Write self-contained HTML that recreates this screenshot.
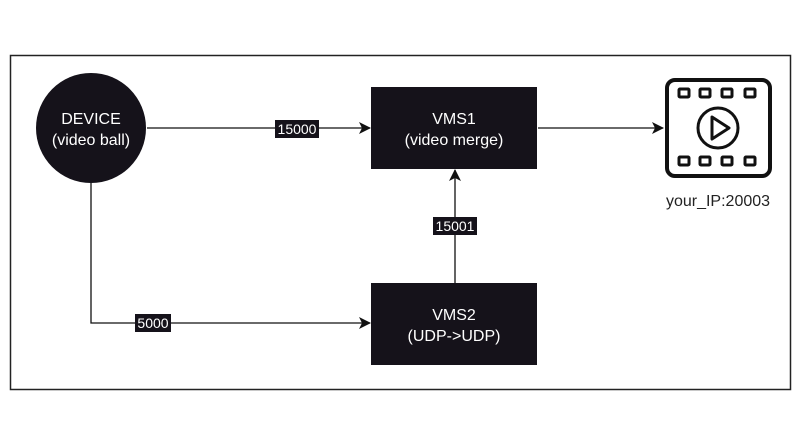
<!DOCTYPE html>
<html><head><style>
html,body{margin:0;background:#fff;width:800px;height:447px;overflow:hidden;}
svg{display:block;font-family:"Liberation Sans",Arial,sans-serif;}
</style></head><body>
<svg width="800" height="447" viewBox="0 0 800 447" xmlns="http://www.w3.org/2000/svg">
<defs><marker id="a" markerWidth="12" markerHeight="12" refX="11" refY="6" orient="auto" markerUnits="userSpaceOnUse"><path d="M0,0 L12,6 L0,12 L3,6 Z" fill="#111"/></marker></defs>
<rect width="800" height="447" fill="#fff"/>
<rect x="10.5" y="55.5" width="780" height="334" fill="none" stroke="#222" stroke-width="1.5"/>
<circle cx="91" cy="128" r="55" fill="#15121a"/>
<text x="91" y="124" fill="#fff" font-size="16" text-anchor="middle">DEVICE</text>
<text x="91" y="145" fill="#fff" font-size="16" text-anchor="middle">(video ball)</text>
<rect x="371" y="87" width="166" height="82" fill="#15121a"/>
<text x="454" y="124" fill="#fff" font-size="16" text-anchor="middle">VMS1</text>
<text x="454" y="145" fill="#fff" font-size="16" text-anchor="middle">(video merge)</text>
<rect x="371" y="283" width="166" height="82" fill="#15121a"/>
<text x="454" y="320" fill="#fff" font-size="16" text-anchor="middle">VMS2</text>
<text x="454" y="341" fill="#fff" font-size="16" text-anchor="middle">(UDP-&gt;UDP)</text>
<line x1="147" y1="128" x2="370" y2="128" stroke="#111" stroke-width="1.3" marker-end="url(#a)"/>
<polyline points="91,183 91,323 370,323" fill="none" stroke="#111" stroke-width="1.3" marker-end="url(#a)"/>
<line x1="455" y1="283" x2="455" y2="170" stroke="#111" stroke-width="1.3" marker-end="url(#a)"/>
<line x1="538" y1="128" x2="663" y2="128" stroke="#111" stroke-width="1.3" marker-end="url(#a)"/>
<rect x="275" y="120" width="44" height="18" fill="#15121a"/>
<text x="297" y="134" fill="#fff" font-size="14" text-anchor="middle">15000</text>
<rect x="135" y="314" width="36" height="18" fill="#15121a"/>
<text x="153" y="328" fill="#fff" font-size="14" text-anchor="middle">5000</text>
<rect x="433" y="217" width="44" height="18" fill="#15121a"/>
<text x="455" y="231" fill="#fff" font-size="14" text-anchor="middle">15001</text>
<rect x="667" y="80" width="103" height="96" rx="8" fill="none" stroke="#111" stroke-width="4"/>
<g fill="none" stroke="#111" stroke-width="3">
<rect x="679" y="89" width="10" height="8" rx="1"/><rect x="700" y="89" width="10" height="8" rx="1"/><rect x="722" y="89" width="10" height="8" rx="1"/><rect x="745" y="89" width="10" height="8" rx="1"/>
<rect x="679" y="157" width="10" height="8" rx="1"/><rect x="700" y="157" width="10" height="8" rx="1"/><rect x="722" y="157" width="10" height="8" rx="1"/><rect x="745" y="157" width="10" height="8" rx="1"/>
<circle cx="718" cy="128" r="20"/>
<path d="M712,117 L729,128 L712,139 Z" stroke-linejoin="round"/>
</g>
<text x="718" y="206" fill="#222" font-size="16" text-anchor="middle">your_IP:20003</text>
</svg>
</body></html>
